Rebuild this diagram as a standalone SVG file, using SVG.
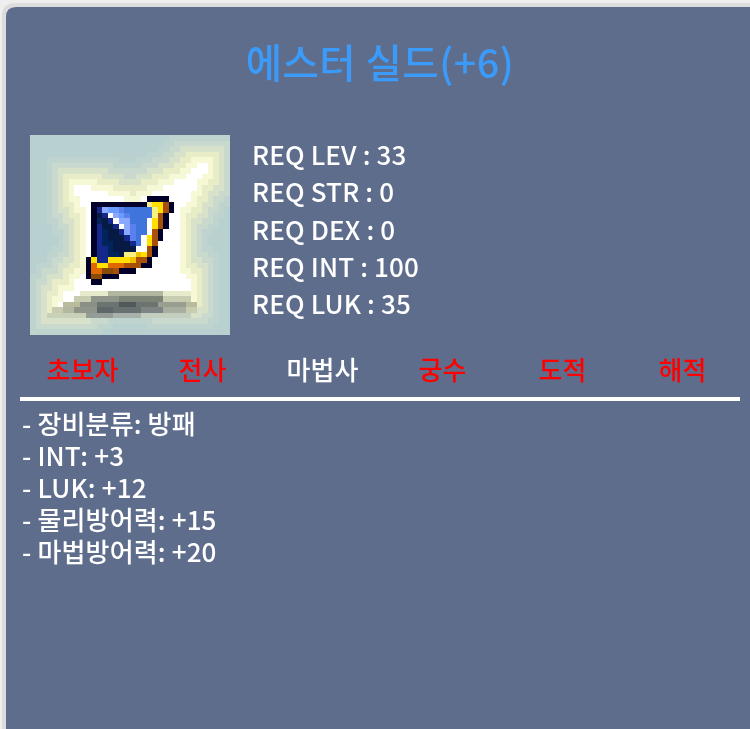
<svg xmlns="http://www.w3.org/2000/svg" width="750" height="729" viewBox="0 0 750 729">
<style>
text{font-family:"Noto Sans CJK KR","Noto Sans",sans-serif;fill:#fff;font-size:26px;font-weight:500;letter-spacing:.15px}
.t{font-size:39.5px;fill:#3b9bfa;text-anchor:middle;letter-spacing:.5px}
.j{text-anchor:middle;fill:#f00;letter-spacing:0}
.w{text-anchor:middle;letter-spacing:0}
</style>
<defs>
<filter id="soft" x="-5%" y="-5%" width="110%" height="110%"><feGaussianBlur stdDeviation="0.3"/></filter>
<path id="star" d="M30 5h2v1h-2zM29 6h3v1h-3zM28 7h3v1h-3zM26 8h4v1h-4zM8 9h3v1h-3zM24 9h6v1h-6zM8 10h6v1h-6zM22 10h7v1h-7zM9 11h8v1h-8zM20 11h9v1h-9zM9 12h19v1H9zM10 13h17v12H10zM9 25h19v1H9zM8 26h21v2H8zM6 28h9v1H6zM22 28h7v1h-7zM6 29h4v1H6zM26 29h2v1h-2zM5 30h3v1H5z"/>
</defs>
<rect width="750" height="729" fill="#eeeeee"/>
<path d="M2 729V16Q2 3 16 3H750V729Z" fill="#dcdcdc"/>
<path d="M6 729V17Q6 7 16 7H750V729Z" fill="#5f6d8c"/>
<g id="title" filter="url(#soft)"><text class="t" x="380" y="78">에스터 실드(+6)</text></g>
<svg id="icon" x="30" y="135" width="200" height="200" viewBox="0 0 36 36" shape-rendering="crispEdges">
<rect width="36" height="36" fill="#b9d0d0"/>
<use href="#star" fill="#bfd3cf" stroke="#bfd3cf" stroke-width="10"/>
<use href="#star" fill="#c9d9cd" stroke="#c9d9cd" stroke-width="8"/>
<use href="#star" fill="#d8e2ca" stroke="#d8e2ca" stroke-width="6"/>
<use href="#star" fill="#e8edc8" stroke="#e8edc8" stroke-width="4"/>
<use href="#star" fill="#f7f8d6" stroke="#f7f8d6" stroke-width="2"/>
<use href="#star" fill="#fff"/>
<path fill="#e8eacc" d="M9 28h20v1H9z"/>
<path fill="#b0b6a0" d="M14 28h10v1H14z"/>
<path fill="#c8ccb0" d="M8 29h21v1H8z"/>
<path fill="#8f958a" d="M11 29h6v1h-6z"/>
<path fill="#7c8478" d="M16 29h8v1h-8z"/>
<path fill="#b8bc9c" d="M6 30h24v1H6z"/>
<path fill="#8a9086" d="M9 30h3v1H9z"/>
<path fill="#6c7470" d="M12 30h4v1h-4zM19 30h4v1h-4z"/>
<path fill="#50585a" d="M16 30h3v1h-3z"/>
<path fill="#999f90" d="M23 30h5v1h-5z"/>
<path fill="#c8ccb0" d="M4 31h2v1H4zM28 31h2v1h-2z"/>
<path fill="#b4b8a0" d="M6 31h2v1H6z"/>
<path fill="#8f9588" d="M8 31h4v1H8z"/>
<path fill="#5d6668" d="M12 31h3v1h-3z"/>
<path fill="#687072" d="M15 31h5v1h-5z"/>
<path fill="#7c8484" d="M20 31h4v1h-4z"/>
<path fill="#a8aea0" d="M24 31h4v1h-4z"/>
<path fill="#c8d0b8" d="M3 32h7v1H3z"/>
<path fill="#959c98" d="M10 32h5v1h-5z"/>
<path fill="#a8b2ac" d="M15 32h5v1h-5z"/>
<path fill="#c4cebf" d="M20 32h9v1h-9z"/>
<path fill="#00002a" d="M21 11h4v1h-4zM11 12h10v1H11zM25 12h1v2h-1zM11 13h1v9H11zM24 14h1v3h-1zM23 17h1v2h-1zM22 20h1v1h-1zM22 21h1v1h-1zM21 22h1v1h-1zM10 22h1v4H10zM20 23h2v1h-2zM16 24h3v1h-3zM13 25h3v1h-3zM11 26h2v1h-2z"/>
<path fill="#00002a" d="M24 14h1v1h-1zM22 19h1v1h-1z"/>
<path fill="#ffe000" d="M22 12h2v1h-2zM23 13h1v1h-1zM22 15h1v2h-1zM21 18h1v2h-1zM20 20h1v2h-1zM11 22h1v1h-1zM14 22h4v1h-4zM12 23h2v1h-2z"/>
<path fill="#f8f080" d="M21 12h1v1h-1zM22 13h1v2h-1zM17 21h2v1h-2z"/>
<path fill="#a85008" d="M24 12h1v2h-1zM23 14h1v3h-1zM22 17h1v3h-1zM21 20h1v2h-1zM19 22h2v1h-2zM17 23h3v1h-3zM15 24h1v1h-1z"/>
<path fill="#e06800" d="M11 23h1v1h-1zM14 23h3v1h-3zM11 24h2v1h-2z"/>
<path fill="#8a4a08" d="M13 24h2v1h-2zM11 25h2v1h-2z"/>
<path fill="#f0c000" d="M19 21h1v1h-1zM18 22h1v1h-1z"/>
<path fill="#14288c" d="M12 13h1v1h-1zM13 14h1v1h-1zM14 15h1v1h-1zM12 16h1v5H12zM15 16h1v1h-1zM16 17h1v1h-1zM17 18h1v1h-1zM18 19h1v1h-1zM13 20h1v3h-1zM12 21h1v2h-1z"/>
<path fill="#061a44" d="M12 14h1v1h-1zM13 15h1v1h-1zM13 16h2v1h-2zM14 17h2v1h-2zM14 18h3v1h-3zM15 19h3v1h-3zM15 20h4v1h-4zM16 21h1v1h-1z"/>
<path fill="#02245c" d="M12 15h1v1h-1zM13 17h1v2h-1zM13 19h2v1h-2zM14 20h1v1h-1zM14 21h2v1h-2z"/>
<path fill="#8aa8ff" d="M13 13h1v1h-1zM15 14h1v1h-1zM16 15h2v1h-2zM17 16h1v1h-1zM17 17h1v1h-1z"/>
<path fill="#6a9cff" d="M14 13h2v1h-2zM16 14h1v1h-1z"/>
<path fill="#5a80ee" d="M16 13h1v1h-1zM17 14h1v1h-1zM18 16h1v1h-1zM18 17h1v1h-1zM18 18h1v1h-1z"/>
<path fill="#3f74dc" d="M17 13h5v1h-5zM18 14h4v1h-4zM18 15h3v1h-3zM19 16h2v1h-2zM19 17h2v1h-2zM19 18h1v2h-1z"/>
<path fill="#fff" d="M14 14h1v1h-1zM15 15h1v1h-1zM21 15h1v3h-1zM16 16h1v1h-1zM20 18h1v3h-1zM19 20h1v1h-1z"/>
</svg>
<g id="req" filter="url(#soft)">
<text x="252" y="165">REQ LEV : 33</text>
<text x="252" y="202">REQ STR : 0</text>
<text x="252" y="240">REQ DEX : 0</text>
<text x="252" y="277">REQ INT : 100</text>
<text x="252" y="314">REQ LUK : 35</text>
</g>
<g id="jobs" filter="url(#soft)">
<text class="j" x="82.5" y="380">초보자</text>
<text class="j" x="202.5" y="380">전사</text>
<text class="w" x="322.5" y="380">마법사</text>
<text class="j" x="442.5" y="380">궁수</text>
<text class="j" x="562.5" y="380">도적</text>
<text class="j" x="682.5" y="380">해적</text>
</g>
<rect x="20" y="397" width="720" height="4" fill="#fff"/>
<g id="stats" filter="url(#soft)">
<text x="22" y="434">- 장비분류: 방패</text>
<text x="22" y="466">- INT: +3</text>
<text x="22" y="498">- LUK: +12</text>
<text x="22" y="530">- 물리방어력: +15</text>
<text x="22" y="562">- 마법방어력: +20</text>
</g>
</svg>
